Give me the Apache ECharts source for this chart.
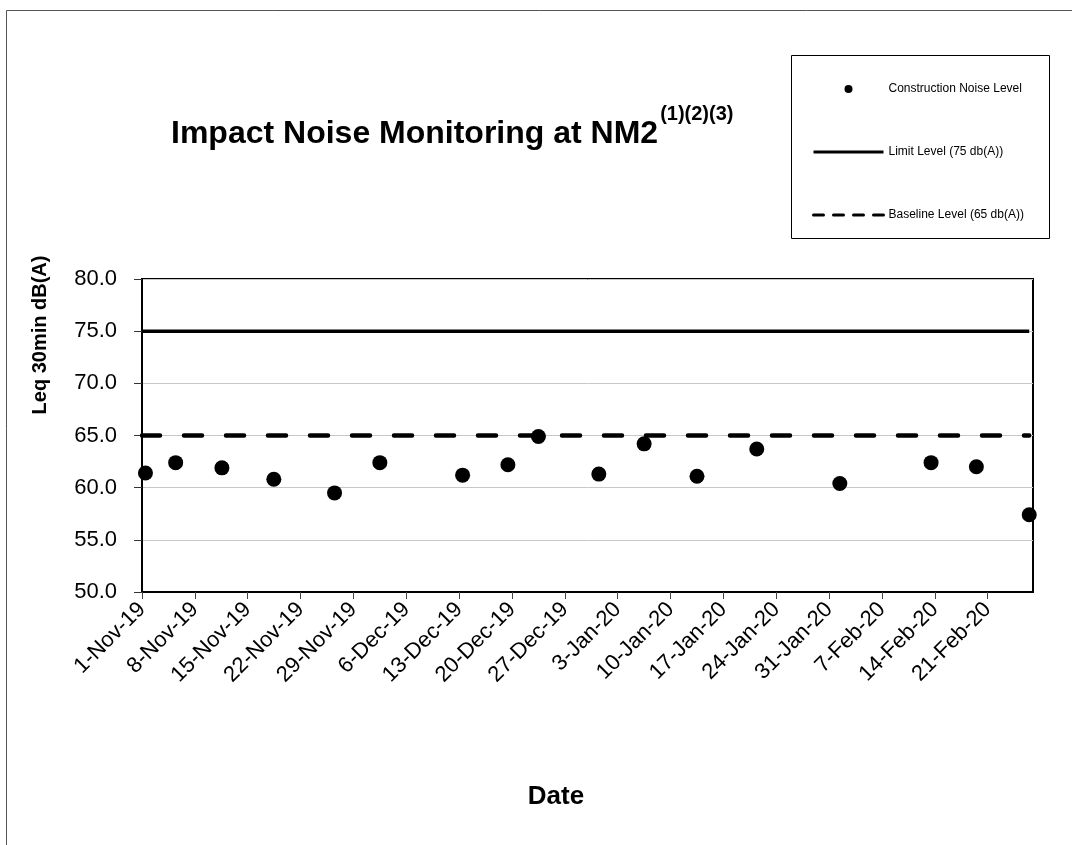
<!DOCTYPE html>
<html>
<head>
<meta charset="utf-8">
<title>Impact Noise Monitoring at NM2</title>
<script src="https://cdn.jsdelivr.net/npm/echarts@6/dist/echarts.min.js"></script>
<style>
html, body { margin: 0; padding: 0; background: #fff; }
#chart { width: 1072px; height: 845px; }
</style>
</head>
<body>
<div id="chart"></div>
<script>
var sampleDates = [
  '2019-11-01 11:00', '2019-11-05 11:00', '2019-11-11 14:00', '2019-11-18 11:00',
  '2019-11-26 12:00', '2019-12-02 12:00', '2019-12-13 11:00', '2019-12-19 11:00',
  '2019-12-23 12:00', '2019-12-31 12:00', '2020-01-06 12:00', '2020-01-13 12:00',
  '2020-01-21 10:00', '2020-02-01 10:00', '2020-02-13 12:00', '2020-02-19 12:00',
  '2020-02-26 12:00'
];
var noiseLevels = [61.4, 62.4, 61.9, 60.8, 59.5, 62.4, 61.2, 62.2, 64.9, 61.3, 64.2, 61.1, 63.7, 60.4, 62.4, 62.0, 57.4];

// reference lines
var refDates = ['2019-11-01 00:00', '2020-02-26 12:00'];
var limitLevels = [75, 75];
var baselineLevels = [65, 65];

// axis settings
var axisStart = '2019-11-01 00:00';
var axisEnd = '2020-02-27 00:00';
var tickDays = 7;
var yMin = 50, yMax = 80, yStep = 5;
var monthNames = ['Jan', 'Feb', 'Mar', 'Apr', 'May', 'Jun', 'Jul', 'Aug', 'Sep', 'Oct', 'Nov', 'Dec'];

var FONT = '"Liberation Sans", Arial, sans-serif';
var DAY = 86400000;

function toUTC(s) {
  var p = s.split(/[- :]/).map(Number);
  return Date.UTC(p[0], p[1] - 1, p[2], p[3] || 0, p[4] || 0);
}
function dayOf(s) {
  return (toUTC(s) - toUTC(axisStart)) / DAY;
}
function zip(xs, ys) {
  return xs.map(function (x, i) { return [dayOf(x), ys[i]]; });
}
function dateLabel(v) {
  if (Math.abs(v % tickDays) > 1e-6) return '';
  var d = new Date(toUTC(axisStart) + v * DAY);
  return d.getUTCDate() + '-' + monthNames[d.getUTCMonth()] + '-' + String(d.getUTCFullYear()).slice(2);
}

// title width, so the superscript sits right after it
var ctx = document.createElement('canvas').getContext('2d');
ctx.font = 'bold 32px ' + FONT;
var titleText = 'Impact Noise Monitoring at NM2';
var titleW = ctx.measureText(titleText).width;

var myChart = echarts.init(document.getElementById('chart'));

var option = {
  backgroundColor: '#fff',
  animation: false,
  color: ['#000'],
  grid: {
    left: 142,
    top: 279,
    width: 891,
    height: 313,
    show: true,
    borderColor: '#000',
    borderWidth: 2,
    backgroundColor: 'transparent'
  },
  legend: {
    orient: 'vertical',
    left: 807,
    top: 76,
    itemWidth: 70,
    itemHeight: 8,
    itemGap: 47,
    selectedMode: false,
    textStyle: { fontFamily: FONT, fontSize: 12, color: '#000', lineHeight: 16 },
    data: [
      { name: 'Construction Noise Level', icon: 'circle', itemStyle: { color: '#000', opacity: 1 } },
      { name: 'Limit Level (75 db(A))', itemStyle: { opacity: 0 }, lineStyle: { color: '#000', width: 3, type: 'solid' } },
      { name: 'Baseline Level (65 db(A))', itemStyle: { opacity: 0 }, lineStyle: { color: '#000', width: 3, type: [10, 10] } }
    ]
  },
  xAxis: {
    type: 'value',
    min: dayOf(axisStart),
    max: dayOf(axisEnd),
    interval: tickDays,
    axisLine: { show: true, lineStyle: { color: '#000', width: 2 } },
    axisTick: { show: true, length: 7, lineStyle: { color: '#444', width: 1 } },
    axisLabel: {
      rotate: 45,
      margin: 14,
      fontFamily: FONT,
      fontSize: 22,
      color: '#000',
      showMaxLabel: false,
      formatter: dateLabel
    },
    splitLine: { show: false }
  },
  yAxis: {
    type: 'value',
    min: yMin,
    max: yMax,
    interval: yStep,
    axisLine: { show: true, lineStyle: { color: '#000', width: 2 } },
    axisTick: { show: true, length: 8, lineStyle: { color: '#333', width: 1 } },
    axisLabel: {
      margin: 25,
      fontFamily: FONT,
      fontSize: 22,
      color: '#000',
      formatter: function (v) { return v.toFixed(1); }
    },
    splitLine: { show: true, lineStyle: { color: '#c8c8c8', width: 1 } }
  },
  series: [
    {
      name: 'Limit Level (75 db(A))',
      type: 'line',
      data: zip(refDates, limitLevels),
      symbol: 'none',
      itemStyle: { color: '#000' },
      lineStyle: { color: '#000', width: 3.5 },
      z: 3
    },
    {
      name: 'Baseline Level (65 db(A))',
      type: 'line',
      data: zip(refDates, baselineLevels),
      symbol: 'none',
      itemStyle: { color: '#000' },
      lineStyle: { color: '#000', width: 4.5, type: [18, 24], cap: 'round' },
      z: 3
    },
    {
      name: 'Construction Noise Level',
      type: 'scatter',
      data: zip(sampleDates, noiseLevels),
      symbol: 'circle',
      symbolSize: 15,
      itemStyle: { color: '#000', opacity: 1 },
      z: 5
    }
  ],
  graphic: [
    // outer frame
    {
      type: 'rect',
      shape: { x: 6.5, y: 10.5, width: 1200, height: 1000 },
      style: { fill: 'none', stroke: '#555', lineWidth: 1 },
      silent: true
    },
    // legend box
    {
      type: 'rect',
      shape: { x: 791.5, y: 55.5, width: 258, height: 183 },
      style: { fill: 'none', stroke: '#000', lineWidth: 1 },
      silent: true
    },
    // chart title
    {
      type: 'text',
      x: 171,
      y: 134,
      style: {
        text: titleText,
        font: 'bold 32px ' + FONT,
        fill: '#000',
        align: 'left',
        verticalAlign: 'middle'
      }
    },
    {
      type: 'text',
      x: 171 + titleW + 2,
      y: 114,
      style: {
        text: '(1)(2)(3)',
        font: 'bold 20px ' + FONT,
        fill: '#000',
        align: 'left',
        verticalAlign: 'middle'
      }
    },
    // y axis name
    {
      type: 'text',
      x: 40,
      y: 335,
      rotation: Math.PI / 2,
      style: {
        text: 'Leq 30min dB(A)',
        font: 'bold 20px ' + FONT,
        fill: '#000',
        align: 'center',
        verticalAlign: 'middle'
      }
    },
    // x axis name
    {
      type: 'text',
      x: 556,
      y: 797,
      style: {
        text: 'Date',
        font: 'bold 26px ' + FONT,
        fill: '#000',
        align: 'center',
        verticalAlign: 'middle'
      }
    }
  ]
};

myChart.setOption(option);
</script>
</body>
</html>
